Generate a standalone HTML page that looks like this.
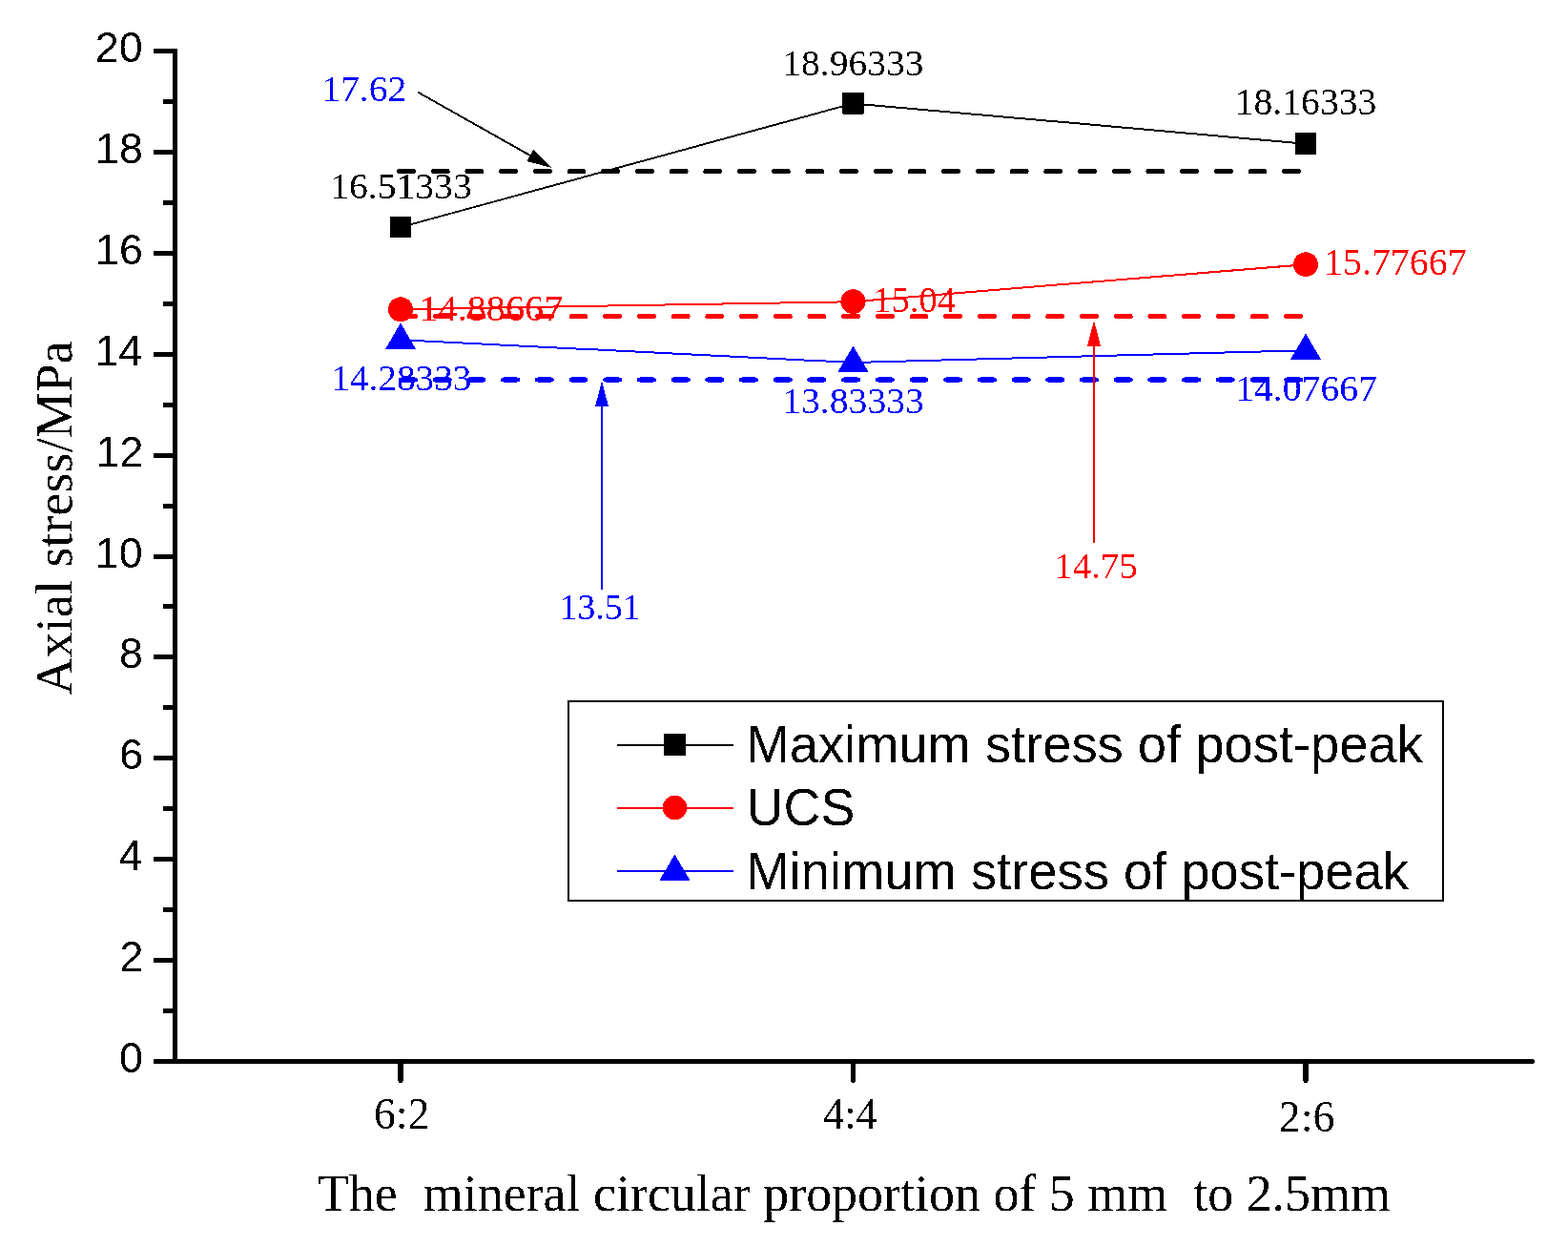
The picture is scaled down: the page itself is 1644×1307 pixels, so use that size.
<!DOCTYPE html>
<html><head><meta charset="utf-8"><title>Axial stress chart</title>
<style>html,body{margin:0;padding:0;background:#fff;overflow:hidden;}svg{display:block;}</style></head>
<body><svg width="1644" height="1307" viewBox="0 0 1644 1307">
<rect width="1644" height="1307" fill="#fff"/>
<defs><filter id="bin" filterUnits="userSpaceOnUse" x="0" y="0" width="1644" height="1307" color-interpolation-filters="sRGB"><feComponentTransfer><feFuncA type="discrete" tableValues="0 1"/></feComponentTransfer></filter></defs>
<g filter="url(#bin)">
<line x1="183.5" y1="51" x2="183.5" y2="1115" stroke="#000" stroke-width="5"/>
<line x1="181" y1="1112.5" x2="1606.5" y2="1112.5" stroke="#000" stroke-width="5" stroke-linecap="round"/>
<line x1="160.5" y1="1112.5" x2="183.5" y2="1112.5" stroke="#000" stroke-width="5"/>
<line x1="170.5" y1="1059.5" x2="183.5" y2="1059.5" stroke="#000" stroke-width="5"/>
<line x1="160.5" y1="1006.5" x2="183.5" y2="1006.5" stroke="#000" stroke-width="5"/>
<line x1="170.5" y1="953.5" x2="183.5" y2="953.5" stroke="#000" stroke-width="5"/>
<line x1="160.5" y1="900.5" x2="183.5" y2="900.5" stroke="#000" stroke-width="5"/>
<line x1="170.5" y1="847.5" x2="183.5" y2="847.5" stroke="#000" stroke-width="5"/>
<line x1="160.5" y1="794.5" x2="183.5" y2="794.5" stroke="#000" stroke-width="5"/>
<line x1="170.5" y1="741.5" x2="183.5" y2="741.5" stroke="#000" stroke-width="5"/>
<line x1="160.5" y1="688.5" x2="183.5" y2="688.5" stroke="#000" stroke-width="5"/>
<line x1="170.5" y1="635.5" x2="183.5" y2="635.5" stroke="#000" stroke-width="5"/>
<line x1="160.5" y1="583.5" x2="183.5" y2="583.5" stroke="#000" stroke-width="5"/>
<line x1="170.5" y1="530.5" x2="183.5" y2="530.5" stroke="#000" stroke-width="5"/>
<line x1="160.5" y1="477.5" x2="183.5" y2="477.5" stroke="#000" stroke-width="5"/>
<line x1="170.5" y1="424.5" x2="183.5" y2="424.5" stroke="#000" stroke-width="5"/>
<line x1="160.5" y1="371.5" x2="183.5" y2="371.5" stroke="#000" stroke-width="5"/>
<line x1="170.5" y1="318.5" x2="183.5" y2="318.5" stroke="#000" stroke-width="5"/>
<line x1="160.5" y1="265.5" x2="183.5" y2="265.5" stroke="#000" stroke-width="5"/>
<line x1="170.5" y1="212.5" x2="183.5" y2="212.5" stroke="#000" stroke-width="5"/>
<line x1="160.5" y1="159.5" x2="183.5" y2="159.5" stroke="#000" stroke-width="5"/>
<line x1="170.5" y1="106.5" x2="183.5" y2="106.5" stroke="#000" stroke-width="5"/>
<line x1="160.5" y1="53.5" x2="183.5" y2="53.5" stroke="#000" stroke-width="5"/>
<line x1="420.0" y1="1112.5" x2="420.0" y2="1132.5" stroke="#000" stroke-width="5" stroke-linecap="round"/>
<line x1="894.5" y1="1112.5" x2="894.5" y2="1132.5" stroke="#000" stroke-width="5" stroke-linecap="round"/>
<line x1="1369.0" y1="1112.5" x2="1369.0" y2="1132.5" stroke="#000" stroke-width="5" stroke-linecap="round"/>
<line x1="418.5" y1="179.52" x2="1369" y2="179.52" stroke="#000" stroke-width="5" stroke-dasharray="15 20.7" stroke-linecap="round"/>
<line x1="420.5" y1="331.49" x2="1369" y2="331.49" stroke="#f00" stroke-width="5" stroke-dasharray="15 20.7" stroke-linecap="round"/>
<line x1="420.5" y1="397.90" x2="1369" y2="397.90" stroke="#00f" stroke-width="5" stroke-dasharray="15 20.7" stroke-linecap="round"/>
<polyline points="420.00,238.12 894.50,108.39 1369.00,150.75" fill="none" stroke="#000" stroke-width="2"/>
<polyline points="420.00,324.25 894.50,316.13 1369.00,277.13" fill="none" stroke="#f00" stroke-width="2"/>
<polyline points="420.00,356.20 894.50,380.03 1369.00,367.14" fill="none" stroke="#00f" stroke-width="2"/>
<rect x="408.75" y="226.87" width="22.5" height="22.5" fill="#000"/>
<rect x="883.25" y="97.14" width="22.5" height="22.5" fill="#000"/>
<rect x="1357.75" y="139.50" width="22.5" height="22.5" fill="#000"/>
<circle cx="420.00" cy="324.25" r="13" fill="#f00"/>
<circle cx="894.50" cy="316.13" r="13" fill="#f00"/>
<circle cx="1369.00" cy="277.13" r="13" fill="#f00"/>
<polygon points="404.00,365.90 436.00,365.90 420.00,338.60" fill="#00f"/>
<polygon points="878.50,389.73 910.50,389.73 894.50,362.43" fill="#00f"/>
<polygon points="1353.00,376.84 1385.00,376.84 1369.00,349.54" fill="#00f"/>
<line x1="438.00" y1="96.50" x2="556.61" y2="163.38" stroke="#000" stroke-width="2"/>
<polygon points="579.00,176.00 552.30,168.98 559.18,156.79" fill="#000"/>
<line x1="631.00" y1="618.00" x2="631.00" y2="425.30" stroke="#00f" stroke-width="2"/>
<polygon points="631.00,399.60 638.00,426.30 624.00,426.30" fill="#00f"/>
<line x1="1147.00" y1="569.00" x2="1147.00" y2="361.80" stroke="#f00" stroke-width="2"/>
<polygon points="1147.00,336.10 1154.00,362.80 1140.00,362.80" fill="#f00"/>
<rect x="596" y="735" width="917" height="209" fill="none" stroke="#000" stroke-width="2"/>
<line x1="647" y1="781" x2="769" y2="781" stroke="#000" stroke-width="2"/>
<rect x="695.9" y="769" width="23" height="23" fill="#000"/>
<line x1="647" y1="847" x2="769" y2="847" stroke="#f00" stroke-width="2"/>
<circle cx="707.5" cy="846.5" r="12.75" fill="#f00"/>
<line x1="647" y1="913" x2="769" y2="913" stroke="#00f" stroke-width="2"/>
<polygon points="691.4,922.8 723.4,922.8 707.4,895.6" fill="#00f"/>
<text x="124.93" y="1123.50" font-family='"Liberation Sans", Arial, sans-serif' font-size="44.80" fill="#000">0</text>
<text x="125.38" y="1017.50" font-family='"Liberation Sans", Arial, sans-serif' font-size="44.80" fill="#000">2</text>
<text x="124.48" y="911.50" font-family='"Liberation Sans", Arial, sans-serif' font-size="44.80" fill="#000">4</text>
<text x="125.15" y="805.50" font-family='"Liberation Sans", Arial, sans-serif' font-size="44.80" fill="#000">6</text>
<text x="124.93" y="699.50" font-family='"Liberation Sans", Arial, sans-serif' font-size="44.80" fill="#000">8</text>
<text x="99.84" y="594.50" font-family='"Liberation Sans", Arial, sans-serif' font-size="44.80" fill="#000">10</text>
<text x="100.51" y="488.50" font-family='"Liberation Sans", Arial, sans-serif' font-size="44.80" fill="#000">12</text>
<text x="99.39" y="382.50" font-family='"Liberation Sans", Arial, sans-serif' font-size="44.80" fill="#000">14</text>
<text x="100.06" y="276.50" font-family='"Liberation Sans", Arial, sans-serif' font-size="44.80" fill="#000">16</text>
<text x="100.06" y="170.50" font-family='"Liberation Sans", Arial, sans-serif' font-size="44.80" fill="#000">18</text>
<text x="99.84" y="64.50" font-family='"Liberation Sans", Arial, sans-serif' font-size="44.80" fill="#000">20</text>
<text transform="translate(391.72,1183.11) scale(1.0076,1)" font-family='"Liberation Serif", "Times New Roman", serif' font-size="45.78" fill="#000">6:2</text>
<text transform="translate(863.11,1183.11) scale(0.9617,1)" font-family='"Liberation Serif", "Times New Roman", serif' font-size="46.12" fill="#000">4:4</text>
<text transform="translate(1340.84,1186.41) scale(0.9911,1)" font-family='"Liberation Serif", "Times New Roman", serif' font-size="46.22" fill="#000">2:6</text>
<text transform="translate(332.92,1269.20) scale(0.9739,1)" font-family='"Liberation Serif", "Times New Roman", serif' font-size="55.40" fill="#000" style="white-space:pre">The  mineral circular proportion of 5 mm  to 2.5mm</text>
<text transform="translate(75.30,728.44) rotate(-90) scale(0.9764,1)" font-family='"Liberation Serif", "Times New Roman", serif' font-size="55.40" fill="#000">Axial stress/MPa</text>
<text transform="translate(337.24,106.32) scale(1.0234,1)" font-family='"Liberation Serif", "Times New Roman", serif' font-size="38.67" fill="#00f">17.62</text>
<text transform="translate(346.13,208.02) scale(1.0291,1)" font-family='"Liberation Serif", "Times New Roman", serif' font-size="38.52" fill="#000">16.51333</text>
<text transform="translate(820.24,78.72) scale(1.0151,1)" font-family='"Liberation Serif", "Times New Roman", serif' font-size="38.97" fill="#000">18.96333</text>
<text transform="translate(1294.73,120.41) scale(1.0096,1)" font-family='"Liberation Serif", "Times New Roman", serif' font-size="39.26" fill="#000">18.16333</text>
<text transform="translate(439.48,335.62) scale(1.0360,1)" font-family='"Liberation Serif", "Times New Roman", serif' font-size="38.82" fill="#f00">14.88667</text>
<text transform="translate(915.23,326.82) scale(1.0007,1)" font-family='"Liberation Serif", "Times New Roman", serif' font-size="38.53" fill="#f00">15.04</text>
<text transform="translate(1388.11,288.31) scale(1.0078,1)" font-family='"Liberation Serif", "Times New Roman", serif' font-size="39.56" fill="#f00">15.77667</text>
<text transform="translate(347.16,409.32) scale(1.0125,1)" font-family='"Liberation Serif", "Times New Roman", serif' font-size="38.82" fill="#00f">14.28333</text>
<text transform="translate(820.23,433.32) scale(1.0211,1)" font-family='"Liberation Serif", "Times New Roman", serif' font-size="38.82" fill="#00f">13.83333</text>
<text transform="translate(1295.13,419.72) scale(1.0264,1)" font-family='"Liberation Serif", "Times New Roman", serif' font-size="38.68" fill="#00f">14.07667</text>
<text transform="translate(586.61,648.53) scale(0.9906,1)" font-family='"Liberation Serif", "Times New Roman", serif' font-size="38.07" fill="#00f">13.51</text>
<text transform="translate(1105.19,606.42) scale(1.0118,1)" font-family='"Liberation Serif", "Times New Roman", serif' font-size="38.51" fill="#f00">14.75</text>
<text transform="translate(782.45,798.90) scale(0.9772,1)" font-family='"Liberation Sans", Arial, sans-serif' font-size="55.60" fill="#000">Maximum stress of post-peak</text>
<text transform="translate(782.76,865.20) scale(0.9680,1)" font-family='"Liberation Sans", Arial, sans-serif' font-size="55.60" fill="#000">UCS</text>
<text transform="translate(782.45,931.90) scale(0.9773,1)" font-family='"Liberation Sans", Arial, sans-serif' font-size="55.60" fill="#000">Minimum stress of post-peak</text>
</g>
</svg></body></html>
